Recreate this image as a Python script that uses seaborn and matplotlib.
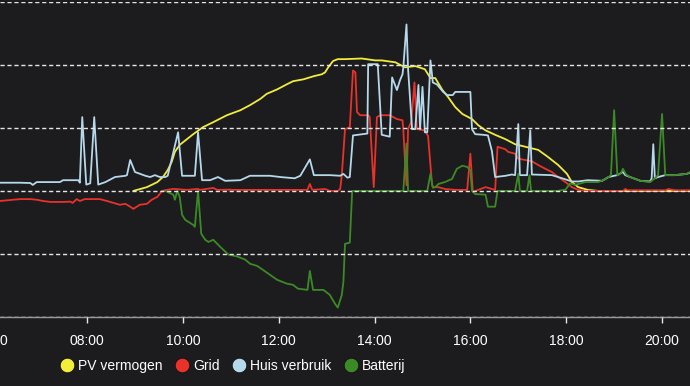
import matplotlib
matplotlib.use("Agg")
import matplotlib.pyplot as plt
import matplotlib.dates as mdates
from matplotlib.lines import Line2D
import seaborn as sns
import pandas as pd

# ---------------- data (W) ----------------
pv_t = ["08:58", "09:15", "09:28", "09:35", "09:41", "09:46", "09:50", "09:56", "10:05", "10:13",
        "10:25", "10:38", "10:55", "11:12", "11:24", "11:37", "11:45", "11:58", "12:10", "12:18",
        "12:31", "12:44", "12:54", "12:58", "13:02", "13:08", "13:14", "13:23", "13:44", "14:01",
        "14:09", "14:26", "14:38", "14:51", "15:03", "15:10", "15:16", "15:25", "15:32", "15:41",
        "15:50", "16:02", "16:10", "16:19", "16:31", "16:44", "16:56", "17:09", "17:25", "17:37",
        "17:50", "18:01", "18:07", "18:15", "18:27", "18:40", "20:35"]
pv_v = [0, 60, 140, 220, 330, 460, 620, 730, 820, 900,
        1010, 1090, 1200, 1280, 1360, 1460, 1540, 1610, 1690, 1740,
        1770, 1820, 1850, 1880, 1960, 2060, 2090, 2090, 2100, 2070,
        2070, 2040, 1960, 1980, 1930, 1790, 1790, 1600, 1490, 1330,
        1220, 1140, 1040, 960, 890, 820, 740, 700, 650, 540,
        410, 270, 140, 60, 16, 0, 0]

grid_t = ["06:11", "06:36", "06:49", "06:57", "07:05", "07:14", "07:30", "07:39", "07:42", "07:47",
          "07:51", "07:57", "08:16", "08:25", "08:33", "08:41", "08:48", "08:54", "08:58", "09:06",
          "09:15", "09:21", "09:28", "09:34", "09:40", "09:48", "10:05", "10:19", "10:21", "10:38",
          "10:43", "10:59", "11:03", "12:36", "12:39", "12:42", "12:58", "13:04", "13:14", "13:17",
          "13:19", "13:23", "13:29", "13:33", "13:36", "13:38", "13:42", "13:52", "13:54", "13:59",
          "14:03", "14:07", "14:19", "14:28", "14:35", "14:36", "14:38", "14:40", "14:42", "14:46",
          "14:50", "14:53", "15:03", "15:07", "15:12", "15:13", "15:20", "15:28", "15:41", "15:56",
          "16:00", "16:03", "16:19", "16:27", "16:31", "16:34", "16:44", "16:47", "16:56", "17:00",
          "17:09", "17:17", "17:25", "17:34", "17:42", "17:50", "17:59", "18:07", "18:15", "18:24",
          "19:11", "19:14", "19:17", "20:04", "20:08", "20:16", "20:35"]
grid_v = [-160, -130, -130, -140, -160, -175, -175, -170, -190, -130,
          -160, -130, -130, -160, -190, -220, -205, -250, -285, -220,
          -205, -140, -95, 0, 16, 32, 16, 32, 16, 47,
          16, 20, 16, 16, 110, 16, 30, 0, 0, 30,
          250, 980, 1010, 1910, 1880, 1250, 1200, 1200, 1170, 60,
          1170, 1200, 1200, 1140, 1120, 980, 500, 90, 980, 1100,
          1720, 980, 960, 870, 100, 60, 60, 30, 16, 16,
          590, -16, 60, 30, 16, 700, 660, 620, 590, 510,
          490, 470, 410, 350, 300, 220, 140, 60, 16, 0,
          0, 30, 10, 10, 30, 10, 10]

huis_t = ["06:11", "06:36", "06:49", "06:52", "06:57", "07:26", "07:30", "07:49", "07:51", "07:54",
          "07:59", "08:04", "08:09", "08:14", "08:23", "08:35", "08:48", "08:50", "08:54", "09:00",
          "09:13", "09:19", "09:25", "09:31", "09:38", "09:41", "09:54", "09:59", "10:15", "10:19",
          "10:24", "10:34", "10:44", "10:53", "11:12", "11:24", "11:49", "12:02", "12:20", "12:27",
          "12:39", "12:44", "13:04", "13:17", "13:21", "13:26", "13:29", "13:33", "13:51", "13:52",
          "14:04", "14:09", "14:19", "14:22", "14:28", "14:32", "14:35", "14:36", "14:40", "14:42",
          "14:47", "14:51", "14:55", "14:57", "15:00", "15:03", "15:06", "15:10", "15:13", "15:18",
          "15:26", "15:31", "15:38", "15:41", "16:00", "16:02", "16:06", "16:16", "16:22", "16:27",
          "16:31", "16:44", "16:52", "16:56", "17:00", "17:02", "17:11", "17:15", "17:17", "17:42",
          "17:55", "18:07", "18:15", "18:27", "18:45", "18:53", "19:00", "19:04", "19:11", "19:14",
          "19:20", "19:33", "19:45", "19:47", "19:49", "19:51", "19:55", "20:04", "20:16", "20:31",
          "20:35"]
huis_v = [130, 130, 125, 95, 140, 140, 170, 170, 130, 1170,
          100, 120, 1170, 100, 140, 220, 240, 250, 490, 300,
          240, 220, 250, 220, 220, 240, 930, 240, 240, 930,
          170, 170, 220, 160, 170, 240, 240, 220, 200, 240,
          500, 250, 250, 240, 270, 210, 220, 880, 910, 2010,
          2010, 890, 860, 1800, 1600, 1760, 1850, 1960, 2640, 1930,
          980, 980, 1680, 980, 1650, 930, 930, 2070, 1720, 1690,
          1570, 1520, 1520, 1570, 1570, 980, 900, 890, 880, 630,
          220, 240, 260, 250, 1060, 250, 250, 960, 260, 250,
          200, 150, 150, 170, 160, 220, 240, 250, 300, 250,
          220, 160, 150, 200, 740, 200, 220, 250, 250, 270,
          290]

bat_t = ["09:38", "09:48", "09:50", "09:53", "09:56", "09:59", "10:03", "10:13", "10:15", "10:19",
         "10:23", "10:28", "10:32", "10:38", "10:47", "10:57", "11:08", "11:18", "11:24", "11:33",
         "11:40", "11:49", "11:58", "12:10", "12:18", "12:24", "12:36", "12:39", "12:43", "12:56",
         "13:04", "13:11", "13:14", "13:19", "13:21", "13:23", "13:29", "13:32", "14:36", "14:40",
         "14:42", "15:06", "15:10", "15:13", "15:16", "15:20", "15:28", "15:37", "15:43", "15:50",
         "15:56", "16:00", "16:02", "16:06", "16:19", "16:22", "16:31", "16:34", "16:56", "17:00",
         "17:02", "17:11", "17:14", "17:16", "17:49", "17:59", "18:05", "18:11", "18:24", "18:40",
         "18:46", "18:53", "18:56", "19:00", "19:04", "19:08", "19:11", "19:15", "19:20", "19:33",
         "19:45", "19:51", "19:55", "20:00", "20:04", "20:16", "20:31", "20:35"]
bat_v = [0, -60, -140, 0, -95, -380, -460, -540, -570, 0,
         -680, -775, -810, -775, -890, -1010, -1040, -1090, -1155, -1190,
         -1250, -1330, -1410, -1470, -1490, -1550, -1570, -1270, -1570, -1570,
         -1650, -1800, -1850, -1650, -1440, -840, -820, 0, 0, 750,
         0, 0, 270, 50, 60, 110, 140, 190, 350, 400,
         380, 330, 0, -50, -60, -250, -250, 0, 0, 270,
         0, 0, 250, 0, 0, 20, 120, 95, 140, 140,
         170, 220, 250, 1280, 250, 270, 350, 260, 220, 160,
         140, 200, 250, 1220, 250, 250, 270, 300]

series_names = ["PV vermogen", "Grid", "Huis verbruik", "Batterij"]
series_colors = ["#f2ec3a", "#e8322a", "#b5d8ea", "#3c8a26"]
tick_labels = ["06:00", "08:00", "10:00", "12:00", "14:00", "16:00", "18:00", "20:00"]
y_grid = [-2000, -1000, 0, 1000, 2000, 3000]

DAY = "2024-06-01 "
def to_dt(lst):
    return pd.to_datetime([DAY + s for s in lst])

bg = "#1c1c1e"
sns.set_theme(style="dark")
plt.rcParams["font.family"] = ["Liberation Sans", "DejaVu Sans"]

fig = plt.figure(figsize=(6.9, 3.86), dpi=100, facecolor=bg)
ax = fig.add_axes([0.0, 1 - 317 / 386, 1.0, 316 / 386 - 0.002])
ax.set_facecolor(bg)

all_series = [(pv_t, pv_v), (grid_t, grid_v), (huis_t, huis_v), (bat_t, bat_v)]
for (t, v), name, col in zip(all_series, series_names, series_colors):
    df = pd.DataFrame({"time": to_dt(t), "value": v})
    sns.lineplot(data=df, x="time", y="value", color=col, linewidth=1.3,
                 estimator=None, sort=False, ax=ax, legend=False)

ax.set_xlabel("")
ax.set_ylabel("")

ax.set_yticks(y_grid)
ax.set_yticklabels([])
ax.tick_params(axis="y", length=0)
ax.grid(False)
ax.set_axisbelow(False)
ax.yaxis.grid(True, color="#e6e6e6", linestyle=(0, (3, 2)), linewidth=1.0)

tick_dt = to_dt(tick_labels)
ax.set_xticks(tick_dt)
ax.set_xticklabels(tick_labels)
ax.tick_params(axis="x", direction="out", length=4.3, width=1, color="#e6e6e6",
               pad=8, labelsize=10, labelcolor="white", bottom=True)

# limits after ticks (set_xticks would otherwise widen the view)
ax.set_xlim(pd.Timestamp(DAY + "06:11"), pd.Timestamp(DAY + "20:35"))
ax.set_ylim(-2000, 3000)

for s in ["top", "left", "right"]:
    ax.spines[s].set_visible(False)
ax.spines["bottom"].set_color("#9a9a9a")
ax.spines["bottom"].set_linewidth(1.0)

# label for tick falling just left of the view
x0 = ax.get_xlim()[0]
for t, lab in zip(tick_dt, tick_labels):
    if mdates.date2num(t) < x0:
        ax.annotate(lab, xy=(mdates.date2num(t), 0), xycoords=ax.get_xaxis_transform(),
                    xytext=(0, -12.3), textcoords="offset points", ha="center", va="top",
                    fontsize=10, color="white", annotation_clip=False)

handles = [Line2D([], [], marker="o", linestyle="", markersize=10.5, markerfacecolor=c,
                  markeredgecolor="#111111", markeredgewidth=0.6) for c in series_colors]
leg = fig.legend(handles, series_names, loc="center", bbox_to_anchor=(233 / 690, 1 - 366 / 386),
                 ncol=4, frameon=False, fontsize=10, handlelength=1.0, handletextpad=0.3,
                 columnspacing=0.9, labelcolor="white")

fig.savefig("out.png", dpi=100, facecolor=bg)
